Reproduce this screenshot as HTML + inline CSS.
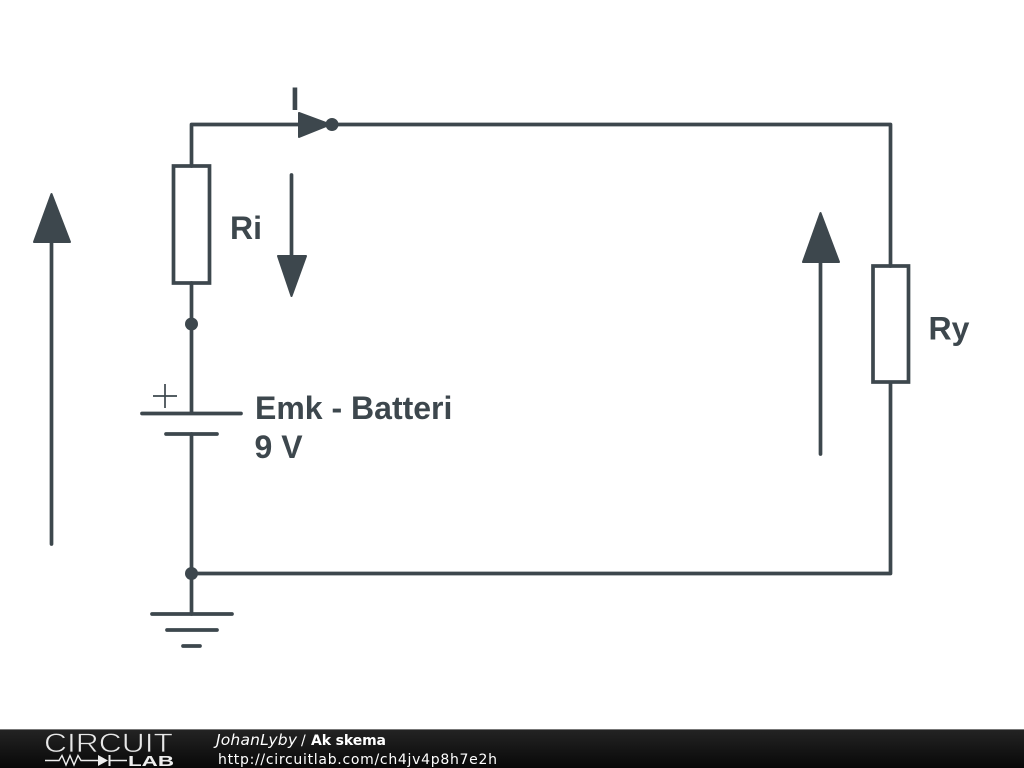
<!DOCTYPE html>
<html><head><meta charset="utf-8"><style>
html,body{margin:0;padding:0;background:#fff}
svg{display:block}
</style></head><body>
<svg width="1024" height="768" viewBox="0 0 1024 768" xmlns="http://www.w3.org/2000/svg">
<defs><linearGradient id="g" x1="0" y1="0" x2="0" y2="1"><stop offset="0" stop-color="#242424"/><stop offset="1" stop-color="#080808"/></linearGradient></defs>
<rect width="1024" height="768" fill="#fff"/>
<g fill="none" stroke="#3d474d" stroke-width="3.700" stroke-linecap="round" stroke-linejoin="round">
<path d="M191.500 166V124.500H300M330 124.500H890.500V266M890.500 383V573.500H191.500"/>
<path d="M191.500 283V413M191.500 434V614"/>
<path d="M142 413.500H241M166 434H217M152 614H232M167 630H217M183 646H200"/>
<path d="M291.500 175V258M51.500 544V240M820.500 454V260"/>
</g>
<g fill="none" stroke="#3d474d" stroke-width="3.700" stroke-linejoin="miter">
<rect x="173.500" y="166" width="36" height="117"/>
<rect x="873" y="266" width="35.500" height="116"/>
</g>
<path d="M165 384V408M153 396H177" stroke="#3d474d" stroke-width="1.700" fill="none"/>
<g fill="#3d474d" stroke="#3d474d" stroke-width="2" stroke-linejoin="round">
<path d="M299 113V137L330 124.500Z"/>
<path d="M278 256H306L291.500 296Z"/>
<path d="M34 242H70L51.500 194Z"/>
<path d="M803 262H839L820.500 213Z"/>
</g>
<g fill="#3d474d">
<circle cx="332" cy="124.500" r="6.500"/>
<circle cx="191.500" cy="324" r="6.500"/>
<circle cx="191.500" cy="573.500" r="6.500"/>
</g>
<g fill="#3d474d" font-family="'Liberation Sans',sans-serif" font-weight="700" font-size="32">
<text x="290.500" y="110">I</text>
<text x="230" y="239">Ri</text>
<text x="928.500" y="339.500">Ry</text>
<text x="255" y="419">Emk - Batteri</text>
<text x="254.500" y="458">9 V</text>
</g>
<rect y="729" width="1024" height="39" fill="url(#g)"/>
<rect y="729" width="1024" height="1" fill="#777"/>
<text x="44" y="752" font-family="'Liberation Sans',sans-serif" font-size="27" fill="#e8e8e8" stroke="#1c1c1c" stroke-width="0.700" textLength="129" lengthAdjust="spacingAndGlyphs">CIRCUIT</text>
<path d="M45 760.500H59L62 755.500L66 765L70 755.500L74 765L78 755.500L81 760.500H98M110 760.500H127" stroke="#eee" stroke-width="1.400" fill="none"/>
<path d="M98 755V766L108 760.500Z M108.500 755h2v11h-2z" fill="#eee"/>
<text x="128" y="766" font-family="'Liberation Sans',sans-serif" font-weight="700" font-size="15" fill="#eee" textLength="46" lengthAdjust="spacingAndGlyphs">LAB</text>
<g font-family="'DejaVu Sans',sans-serif" font-size="14" fill="#fff">
<text x="216" y="745" font-style="italic" font-size="15.500" textLength="81" lengthAdjust="spacing">JohanLyby</text>
<text x="301" y="745">/</text>
<text x="311" y="745" font-weight="700" textLength="75" lengthAdjust="spacing">Ak skema</text>
<text x="218" y="764" textLength="279" lengthAdjust="spacing">http://circuitlab.com/ch4jv4p8h7e2h</text>
</g>
</svg>
</body></html>
